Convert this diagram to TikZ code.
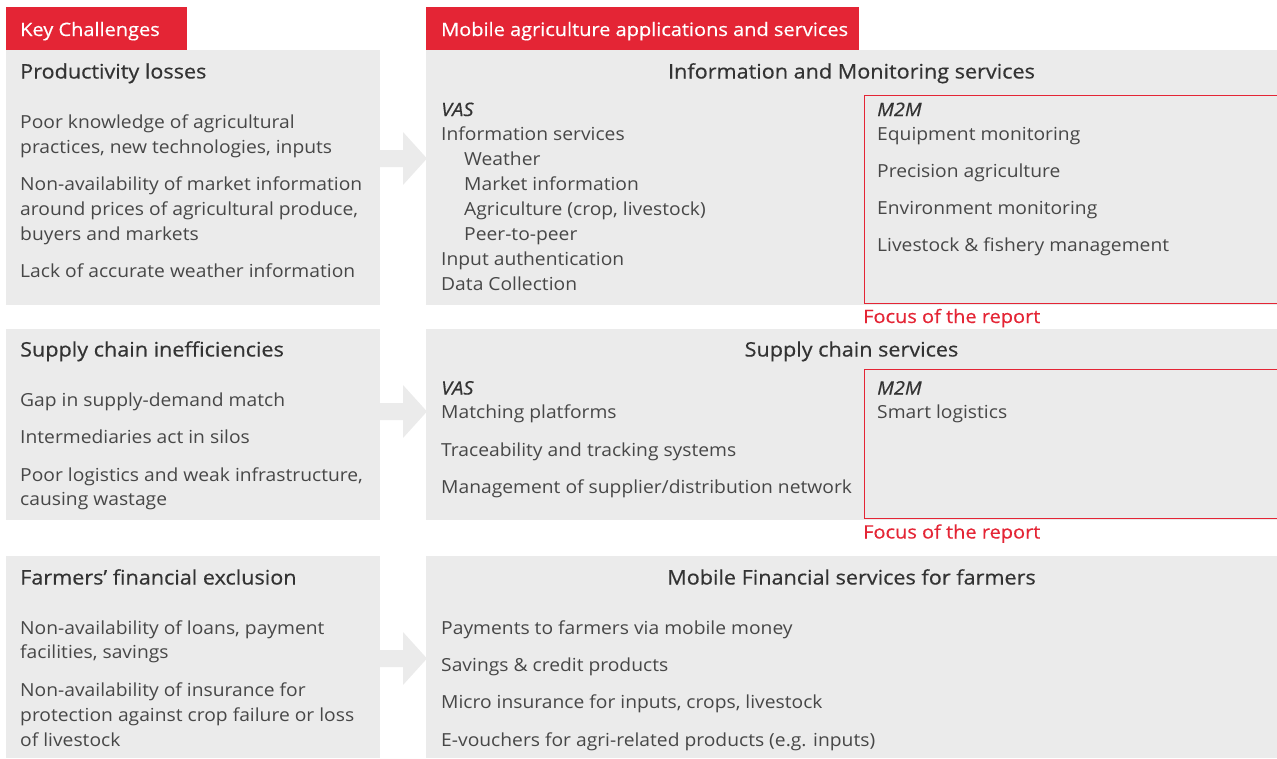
\documentclass[tikz,border=0pt]{standalone}
\usepackage{fontspec}
\setmainfont[FakeStretch=1.07]{Open Sans}
\newfontfamily\medfont[FakeBold=0.5,FakeStretch=1.08]{Open Sans}
\usetikzlibrary{positioning}

\definecolor{gsmared}{HTML}{E42535}
\definecolor{boxgray}{HTML}{EBEBEB}
\definecolor{txtgray}{HTML}{474747}
\definecolor{headgray}{HTML}{333333}

\begin{document}
\begin{tikzpicture}[x=1pt,y=-1pt,
	redhead/.style={fill=gsmared, inner sep=0pt, anchor=north west},
	headtext/.style={font=\medfont\fontsize{18.5}{20}\selectfont, text=white, inner sep=0pt, anchor=base west},
	panel/.style={fill=boxgray, inner sep=0pt, anchor=north west},
	focusbox/.style={draw=gsmared, line width=1.2pt, inner sep=0pt, anchor=north west},
	title/.style={font=\medfont\fontsize{20}{22}\selectfont, text=headgray, inner sep=0pt},
	item/.style={font=\fontsize{18}{20}\selectfont, text=txtgray, inner sep=0pt, anchor=base west},
	tag/.style={font=\medfont\itshape\fontsize{18.5}{20}\selectfont, text=headgray, inner sep=0pt, anchor=base west},
	focus/.style={font=\medfont\fontsize{18.5}{20}\selectfont, text=gsmared, inner sep=0pt, anchor=base west},
	arrowfill/.style={fill=boxgray}]
	
	\useasboundingbox (0,0) rectangle (1277,758);
	
	% headers
	\node[redhead, minimum width=181pt, minimum height=43pt] (keyhead) at (6,7) {};
	\node[headtext] (keytext) at (20,36) {Key Challenges};
	\node[redhead, minimum width=433pt, minimum height=43pt] (mobhead) at (426,7) {};
	\node[headtext] (mobtext) at (441,36) {Mobile agriculture applications and services};
	
	% grey panels
	\node[panel, minimum width=374pt, minimum height=255pt] (chal1) at (6,50) {};
	\node[panel, minimum width=374pt, minimum height=191pt] (chal2) at (6,329) {};
	\node[panel, minimum width=374pt, minimum height=202pt] (chal3) at (6,556) {};
	\node[panel, minimum width=851pt, minimum height=255pt] (serv1) at (426,50) {};
	\node[panel, minimum width=851pt, minimum height=191pt] (serv2) at (426,329) {};
	\node[panel, minimum width=851pt, minimum height=202pt] (serv3) at (426,556) {};
	
	% block arrows
	\foreach \y in {158.5,411.5,658.5}
		\fill[arrowfill] (380,\y-8.5) -- (403,\y-8.5) -- (403,\y-26.5) -- (427,\y)
			-- (403,\y+26.5) -- (403,\y+8.5) -- (380,\y+8.5) -- cycle;
	
	% M2M frames
	\node[focusbox, minimum width=420pt, minimum height=208.5pt] (m2m1) at (864,94.5) {};
	\node[focusbox, minimum width=420pt, minimum height=148.5pt] (m2m2) at (864,369) {};
	\node[focus] (focus1) at (863,323) {Focus of the report};
	\node[focus] (focus2) at (863,538.5) {Focus of the report};
	
	% key challenges
	\node[title, anchor=base west] (chal1t) at (20,78.5) {Productivity losses};
	\foreach \y/\t [count=\n] in {128.5/{Poor knowledge of agricultural},
		153.5/{practices, new technologies, inputs},
		190.5/{Non-availability of market information},
		215.5/{around prices of agricultural produce,},
		240.5/{buyers and markets},
		277.5/{Lack of accurate weather information}}
		\node[item] (chal1-\n) at (20,\y) {\t};
	
	\node[title, anchor=base west] (chal2t) at (20,356.5) {Supply chain inefficiencies};
	\foreach \y/\t [count=\n] in {406.5/{Gap in supply-demand match},
		443.5/{Intermediaries act in silos},
		481.5/{Poor logistics and weak infrastructure,},
		505.5/{causing wastage}}
		\node[item] (chal2-\n) at (20,\y) {\t};
	
	\node[title, anchor=base west] (chal3t) at (20,584.5) {Farmers’ financial exclusion};
	\foreach \y/\t [count=\n] in {634.5/{Non-availability of loans, payment},
		658.5/{facilities, savings},
		696.5/{Non-availability of insurance for},
		721.5/{protection against crop failure or loss},
		746.5/{of livestock}}
		\node[item] (chal3-\n) at (20,\y) {\t};
	
	% services
	\node[title, anchor=base] (serv1t) at (851.5,78.5) {Information and Monitoring services};
	\node[tag] (vas1) at (441,116) {VAS};
	\node[item] (serv1-1) at (441,140.5) {Information services};
	\foreach \y/\t [count=\n] in {165.5/{Weather},
		190.5/{Market information},
		215.5/{Agriculture (crop, livestock)},
		240.5/{Peer-to-peer}}
		\node[item] (sub1-\n) at (464,\y) {\t};
	\node[item] (serv1-2) at (441,265.5) {Input authentication};
	\node[item] (serv1-3) at (441,290.5) {Data Collection};
	\node[tag] (m2mt1) at (877,116) {M2M};
	\foreach \y/\t [count=\n] in {140.5/{Equipment monitoring},
		177.5/{Precision agriculture},
		214.5/{Environment monitoring},
		251.5/{Livestock \& fishery management}}
		\node[item] (mon1-\n) at (877,\y) {\t};
	
	\node[title, anchor=base] (serv2t) at (851.5,356.5) {Supply chain services};
	\node[tag] (vas2) at (441,394.5) {VAS};
	\foreach \y/\t [count=\n] in {418.5/{Matching platforms},
		456.5/{Traceability and tracking systems},
		493.5/{Management of supplier/distribution network}}
		\node[item] (serv2-\n) at (441,\y) {\t};
	\node[tag] (m2mt2) at (877,394.5) {M2M};
	\node[item] (log2) at (877,418.5) {Smart logistics};
	
	\node[title, anchor=base] (serv3t) at (851.5,584.5) {Mobile Financial services for farmers};
	\foreach \y/\t [count=\n] in {634.5/{Payments to farmers via mobile money},
		671.5/{Savings \& credit products},
		708.5/{Micro insurance for inputs, crops, livestock},
		746.5/{E-vouchers for agri-related products (e.g. inputs)}}
		\node[item] (serv3-\n) at (441,\y) {\t};
	
\end{tikzpicture}
\end{document}
